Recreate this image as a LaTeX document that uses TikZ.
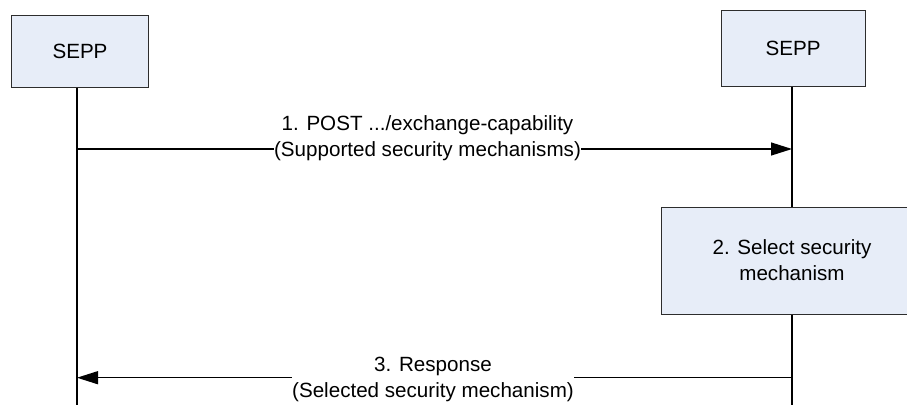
\documentclass[tikz,border=0pt]{standalone}
\usepackage{fontspec}
\setmainfont{Liberation Sans}
\usetikzlibrary{arrows.meta}
\definecolor{boxfill}{RGB}{231, 237, 248}
\definecolor{boxline}{RGB}{45, 45, 45}

\begin{document}
\begin{tikzpicture}[x=1pt, y=-1pt,
    every node/.style={font=\fontsize{20.6}{26}\selectfont},
    entity/.style={draw=boxline, fill=boxfill, line width=1pt, inner sep=0pt, align=center},
    life/.style={line width=1.3pt},
    msg/.style={line width=1.3pt, -{Triangle[length=21pt, width=13pt]}},
    msglabel/.style={fill=white, inner sep=0pt, align=center}]
        \clip (0,0) rectangle (907,405);
        \node[entity, minimum width=137, minimum height=72] (seppA) at (80,51) {SEPP};
        \node[entity, minimum width=144, minimum height=76] (seppB) at (793,48) {SEPP};
        \node[entity, minimum width=262, minimum height=107] (select) at (792,260.5) {2. Select security\\mechanism};
        \coordinate (endA) at (77,405);
        \coordinate (endB) at (792,405);
        \draw[life] (seppA.south -| endA) -- (endA);
        \draw[life] (seppB.south -| endB) -- (select.north);
        \draw[life] (select.south) -- (endB);
        \coordinate (m1a) at (77,149);
        \coordinate (m1b) at (792,149);
        \draw[msg] (m1a) -- (m1b);
        \node[msglabel] (m1lab) at (427.5,138.4) {1. POST .../exchange-capability\\(Supported security mechanisms)};
        \coordinate (m3a) at (77,377.7);
        \coordinate (m3b) at (792,377.7);
        \draw[msg] (m3b) -- (m3a);
        \node[msglabel] (m3lab) at (433,379.5) {3. Response\\(Selected security mechanism)};
      \end{tikzpicture}
\end{document}
